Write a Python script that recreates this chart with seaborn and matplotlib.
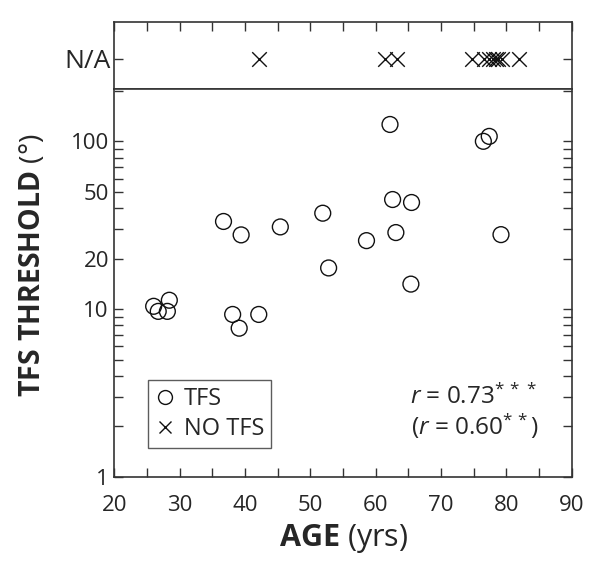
import numpy as np
import pandas as pd
import matplotlib
matplotlib.use("Agg")
import matplotlib.pyplot as plt
import seaborn as sns
from matplotlib.lines import Line2D
from matplotlib.ticker import FixedLocator, FixedFormatter, NullFormatter


# Listeners with a measurable TFS threshold (age in yrs, threshold in degrees)
tfs_age = [36.7, 39.4, 45.4, 51.9, 62.6, 65.5, 63.1, 58.6, 52.8, 65.4,
           79.2, 26.0, 26.7, 28.1, 28.4, 38.1, 39.1, 42.1, 62.2, 76.5, 77.4]
tfs_threshold = [33.3, 27.7, 30.9, 37.3, 45.0, 43.2, 28.6, 25.6, 17.6, 14.1,
                 27.8, 10.4, 9.7, 9.7, 11.3, 9.3, 7.7, 9.3, 126, 100, 107]

# Listeners with no measurable threshold (plotted in the N/A strip)
no_tfs_age = [42.1, 61.4, 63.2, 74.7, 76.6, 77.3, 77.9, 78.4, 78.8, 79.3, 82.0]

x_ticks = [20, 30, 40, 50, 60, 70, 80, 90]
x_minor = [25, 35, 45, 55, 65, 75, 85]
y_ticks = [1, 10, 20, 50, 100]
y_tick_labels = ["1", "10", "20", "50", "100"]
y_minor = [2, 3, 4, 5, 6, 7, 8, 9, 30, 40, 60, 70, 80, 90, 200]

r_main = "0.73"
r_paren = "0.60"


sns.set_style("ticks")
plt.rcParams["font.family"] = ["Open Sans", "DejaVu Sans"]
plt.rcParams["mathtext.fontset"] = "custom"
plt.rcParams["mathtext.rm"] = "Open Sans"
plt.rcParams["mathtext.bf"] = "Open Sans:bold"
plt.rcParams["mathtext.it"] = "Open Sans:italic"

line_col = "#333333"
tick_kw = dict(direction="in", length=6.5, width=1.0, color=line_col)

fig = plt.figure(figsize=(6, 5.69), dpi=100)
ax_top = fig.add_axes([0.1908, 0.8436, 0.7617, 0.1177])
ax = fig.add_axes([0.1908, 0.1617, 0.7617, 0.6819])

# --- main log panel
df_tfs = pd.DataFrame({"age": tfs_age, "thr": tfs_threshold})
sns.scatterplot(data=df_tfs, x="age", y="thr", ax=ax, marker="o", s=130,
                facecolor="none", edgecolor="#111111", linewidth=1.0)
ax.set_yscale("log")
ax.set_xlim(20, 90)
ax.set_ylim(1, 205)
ax.xaxis.set_major_locator(FixedLocator(x_ticks))
ax.xaxis.set_minor_locator(FixedLocator(x_minor))
ax.yaxis.set_major_locator(FixedLocator(y_ticks))
ax.yaxis.set_major_formatter(FixedFormatter(y_tick_labels))
ax.yaxis.set_minor_locator(FixedLocator(y_minor))
ax.yaxis.set_minor_formatter(NullFormatter())
ax.tick_params(which="both", left=True, right=True, bottom=True, top=False, **tick_kw)
ax.tick_params(axis="x", which="major", labelsize=16, pad=13)
ax.tick_params(axis="y", which="major", labelsize=16, pad=4)
ax.set_xlabel("")
ax.set_ylabel("")

# --- N/A strip on top
df_no = pd.DataFrame({"age": no_tfs_age, "y": np.zeros(len(no_tfs_age))})
sns.scatterplot(data=df_no, x="age", y="y", ax=ax_top, marker="x", s=110,
                color="#111111", linewidth=1.0)
ax_top.set_xlim(20, 90)
ax_top.set_ylim(-0.448, 0.552)
ax_top.set_xticks(x_ticks + x_minor)
ax_top.set_xticklabels([])
ax_top.set_yticks([0])
ax_top.set_yticklabels(["N/A"])
ax_top.tick_params(axis="x", which="both", bottom=False, top=True, **tick_kw)
ax_top.tick_params(axis="y", left=True, right=True, labelsize=19, pad=3, **tick_kw)
ax_top.set_xlabel("")
ax_top.set_ylabel("")

for a in (ax, ax_top):
    for sp in a.spines.values():
        sp.set_visible(True)
        sp.set_color(line_col)
        sp.set_linewidth(1.2)

# Legend
handles = [
    Line2D([], [], marker="o", linestyle="none", markerfacecolor="none",
           markeredgecolor="#111111", markersize=10, label="TFS"),
    Line2D([], [], marker="x", linestyle="none", color="#111111",
           markersize=8, label="NO TFS"),
]
leg = ax.legend(handles=handles, loc="lower left", bbox_to_anchor=(0.074, 0.075),
                borderaxespad=0, fancybox=False, fontsize=17, handlelength=0.8,
                handletextpad=0.4, borderpad=0.3, labelspacing=0.25)
leg.get_frame().set_edgecolor(line_col)
leg.get_frame().set_linewidth(1.0)

# Correlation annotation
ax.text(0.9245, 0.207, r"$\mathit{r}$ = " + r_main + r"$^{*\,*\,*}$",
        transform=ax.transAxes, ha="right", va="center", fontsize=17.5)
ax.text(0.927, 0.13, r"($\mathit{r}$ = " + r_paren + r"$^{*\,*}$)",
        transform=ax.transAxes, ha="right", va="center", fontsize=17.5)

# Axis labels
fig.text(0.572, 0.053, r"$\mathbf{AGE}$ (yrs)", ha="center", va="center", fontsize=22)
fig.text(0.055, 0.534, r"$\mathbf{TFS\ THRESHOLD}$ (°)", ha="center", va="center",
         rotation=90, fontsize=20.5)

fig.savefig("out.png", dpi=100)
